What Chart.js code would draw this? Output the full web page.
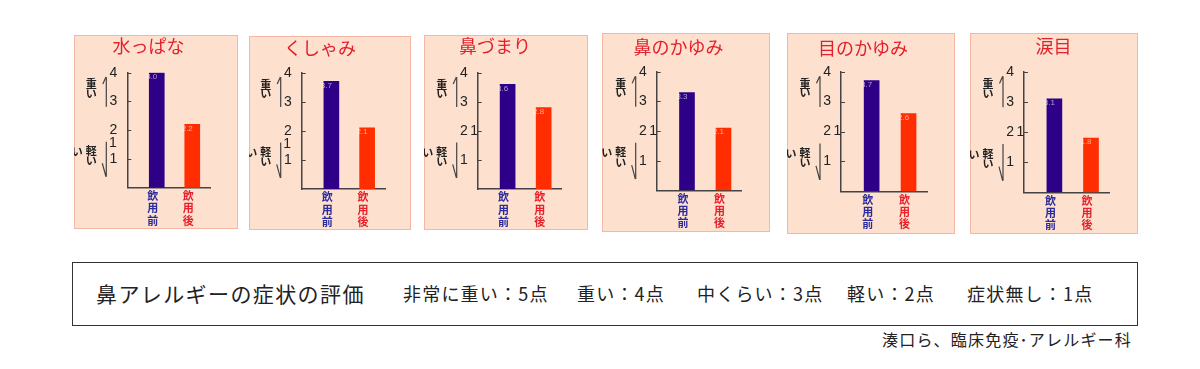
<!DOCTYPE html>
<html><head><meta charset="utf-8">
<script src="https://cdn.jsdelivr.net/npm/chart.js@4"></script>
<style>
html,body{margin:0;padding:0;background:#fff;width:1200px;height:369px;overflow:hidden;font-family:"Noto Sans CJK JP","Noto Sans",sans-serif;}
.panel{position:absolute;box-sizing:border-box;background:#FDE0CE;border:1px solid #F5B6A6;}
.panel canvas{position:absolute;left:-1px;top:-1px;}
#noteBox{position:absolute;left:72px;top:262px;width:1066px;height:64px;box-sizing:border-box;border:1px solid #333;}
.t{position:absolute;white-space:nowrap;color:#222;line-height:1;}
</style></head><body>
<div id="root"></div>
<div id="noteBox"></div>
<script>
// ---- data ----
const symptoms = ['水っぱな','くしゃみ','鼻づまり','鼻のかゆみ','目のかゆみ','涙目'];
const phases = ['飲用前','飲用後'];
const beforeScores = [4.0, 3.7, 3.6, 3.3, 3.7, 3.1];
const afterScores  = [2.2, 2.1, 2.8, 2.1, 2.6, 1.8];
const yTicks = [1, 2, 3, 4];
const heavyLabel = '重い';
const lightLabel = '軽い';
const noteTitle = '鼻アレルギーの症状の評価';
const scoreLabels = ['非常に重い：5点','重い：4点','中くらい：3点','軽い：2点','症状無し：1点'];
const sourceText = '湊口ら、臨床免疫･アレルギー科';

// ---- layout / style ----
const LAYOUT = [
 {left:74,  top:35, w:164, h:194, axL:53.3, axT:37.7, axR:136,   axB:152.7, tcx:74.5, tcy:11,   extra:'side'},
 {left:249, top:36, w:162, h:194, axL:52.7, axT:36.7, axR:136,   axB:153,   tcx:71,   tcy:12.3, extra:'side'},
 {left:424, top:35, w:164, h:195, axL:53.7, axT:37.7, axR:137.7, axB:154,   tcx:71,   tcy:11.3, extra:'axis'},
 {left:602, top:33, w:168, h:199, axL:54.7, axT:38.7, axR:139.7, axB:157.3, tcx:76.5, tcy:14.5, extra:'axis'},
 {left:787, top:33, w:168, h:201, axL:54,   axT:38.7, axR:140,   axB:158.3, tcx:76,   tcy:15,   extra:'axis'},
 {left:970, top:33, w:168, h:201, axL:54,   axT:38.7, axR:139.3, axB:159.3, tcx:83.5, tcy:13,   extra:'axis'}
];
const BAR_COLORS = ['#2E0088', '#FF2D00'];
const PHASE_COLORS = ['#2B2B9E', '#E8202A'];
const AXIS_COLOR = '#444';
const TITLE_COLOR = '#E41E2B';
const CJK = '"Noto Sans CJK JP"';

const decor = {
  id: 'decor',
  afterDatasetsDraw(chart) {
    const ctx = chart.ctx;
    const meta = chart.getDatasetMeta(0);
    const ds = chart.data.datasets[0].data;
    ctx.save();
    ctx.font = '8px "Liberation Sans"';
    ctx.fillStyle = 'rgba(255,255,255,0.6)';
    ctx.textAlign = 'center';
    ctx.textBaseline = 'middle';
    meta.data.forEach((el, i) => {
      ctx.fillText(ds[i].y.toFixed(1), el.x - 5, el.y + 4);
    });
    ctx.restore();
  },
  afterDraw(chart, args, o) {
    const ctx = chart.ctx;
    const ax = chart.chartArea.left;
    const ys = chart.scales.y;
    const py = v => ys.getPixelForValue(v);
    ctx.save();
    // inward tick marks on the y axis
    ctx.strokeStyle = AXIS_COLOR;
    ctx.lineWidth = 1;
    ctx.beginPath();
    ys.ticks.forEach(t => {
      const y = Math.round(py(t.value)) + 0.5;
      ctx.moveTo(ax, y); ctx.lineTo(ax + 4, y);
    });
    ctx.stroke();

    ctx.fillStyle = '#222';
    ctx.textAlign = 'center';
    ctx.textBaseline = 'middle';
    ctx.font = 'bold 11px ' + CJK;
    ctx.fillText(heavyLabel[0], ax - 36, py(3.6));
    ctx.fillText(heavyLabel[1], ax - 36, py(3.28));
    ctx.fillText(lightLabel[0], ax - 36, py(1.29));
    ctx.fillText(lightLabel[1], ax - 36, py(0.94));
    ctx.fillText(lightLabel[1], ax - 50, py(1.25));
    ctx.font = '14px "Liberation Sans"';
    if (o.extra === 'side') ctx.fillText(String(yTicks[0]), ax - 14.5, py(1.55));
    else ctx.fillText(String(yTicks[0]), ax - 3.5, py(2));
    ctx.lineWidth = 1.2;
    ctx.beginPath();
    ctx.moveTo(ax - 21, py(3.85)); ctx.lineTo(ax - 21, py(2.82));
    ctx.moveTo(ax - 24.5, py(3.61)); ctx.lineTo(ax - 21.3, py(3.85));
    ctx.moveTo(ax - 21, py(1.6)); ctx.lineTo(ax - 21, py(0.38));
    ctx.moveTo(ax - 25, py(0.85)); ctx.lineTo(ax - 21.3, py(0.38));
    ctx.stroke();
    ctx.restore();
  }
};

const root = document.getElementById('root');
symptoms.forEach((name, i) => {
  const L = LAYOUT[i];
  const div = document.createElement('div');
  div.className = 'panel';
  Object.assign(div.style, {left: L.left + 'px', top: L.top + 'px', width: L.w + 'px', height: L.h + 'px'});
  const cv = document.createElement('canvas');
  cv.width = L.w; cv.height = L.h;
  cv.style.width = L.w + 'px'; cv.style.height = L.h + 'px';
  div.appendChild(cv);
  root.appendChild(div);

  const padR = L.w - L.axR;
  const padL = 2 * L.tcx - L.axR;
  const tLine = 21.6;
  const pt = L.tcy - tLine / 2;
  const pb = L.axT - pt - tLine;

  new Chart(cv, {
    type: 'bar',
    data: {
      datasets: [{
        data: phases.map((p, k) => ({x: k + 1, y: (k === 0 ? beforeScores : afterScores)[i]})),
        backgroundColor: BAR_COLORS,
        borderWidth: 0,
        barThickness: 15
      }]
    },
    options: {
      responsive: false,
      animation: false,
      devicePixelRatio: 1,
      layout: {padding: {left: padL, right: padR, top: 0, bottom: 0}},
      plugins: {
        legend: {display: false},
        tooltip: {enabled: false},
        title: {
          display: true, text: name, color: TITLE_COLOR,
          font: {family: CJK, size: 18, weight: 'normal', lineHeight: 1.2},
          padding: {top: pt, bottom: pb}
        },
        decor: {extra: L.extra}
      },
      scales: {
        x: {
          type: 'linear', min: 0.17, max: 2.5, offset: false,
          afterBuildTicks: s => { s.ticks = phases.map((p, k) => ({value: k + 1})); },
          afterFit: s => { s.height = L.h - L.axB; },
          grid: {display: false},
          border: {display: true, color: AXIS_COLOR, width: 1.5},
          ticks: {
            autoSkip: false, maxRotation: 0, padding: -6, labelOffset: -4,
            font: {family: CJK, size: 11, weight: 'bold', lineHeight: 1.12},
            color: c => PHASE_COLORS[c.index] || PHASE_COLORS[0],
            callback: v => (phases[Math.round(v) - 1] || '').split('')
          }
        },
        y: {
          min: 0, max: 4,
          afterBuildTicks: s => { s.ticks = yTicks.map(v => ({value: v})); },
          afterFit: s => { s.width = L.axL - padL; },
          grid: {display: true, drawOnChartArea: false, drawTicks: false},
          border: {display: true, color: AXIS_COLOR, width: 1.5},
          ticks: {color: '#222', padding: 10, font: {family: 'Liberation Sans', size: 14}}
        }
      }
    },
    plugins: [decor]
  });
});

// bottom note box
const box = document.getElementById('noteBox');
function addText(parent, txt, x, y, size, extra) {
  const s = document.createElement('div');
  s.className = 't';
  s.textContent = txt;
  Object.assign(s.style, {left: x + 'px', top: y + 'px', fontSize: size + 'px'}, extra || {});
  parent.appendChild(s);
  return s;
}
addText(box, noteTitle, 23, 20, 21, {letterSpacing: '1.4px'});
const segX = [330, 504, 624, 774, 894];
scoreLabels.forEach((t, k) => addText(box, t, segX[k], 21, 18, {letterSpacing: '1.2px'}));
addText(document.body, sourceText, 882, 331, 16, {letterSpacing: '1.2px'});
</script>
</body></html>
